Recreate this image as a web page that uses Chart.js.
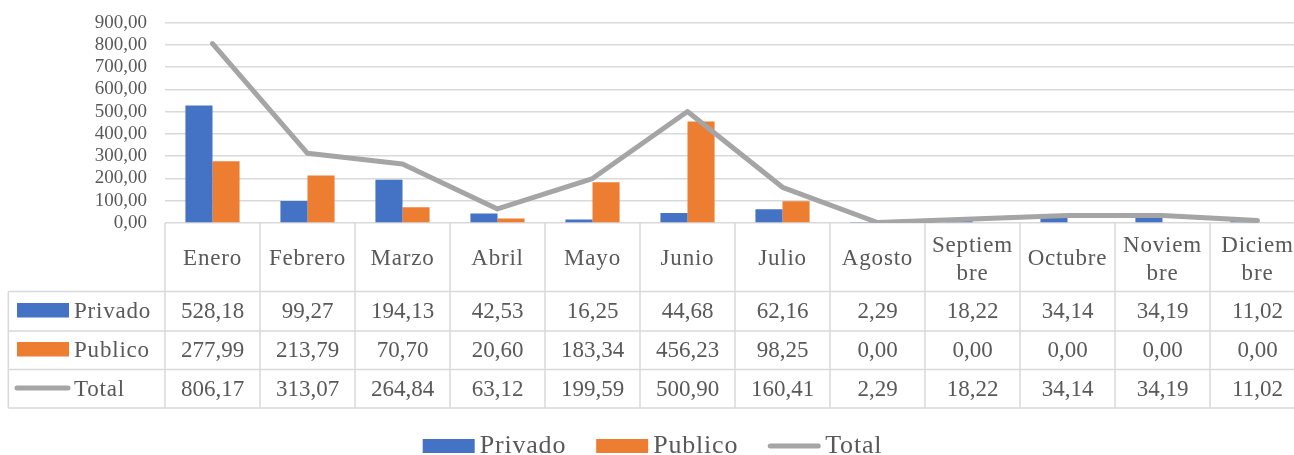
<!DOCTYPE html>
<html><head><meta charset="utf-8">
<script src="https://cdn.jsdelivr.net/npm/chart.js@4"></script>
<style>
html,body{margin:0;padding:0;background:#fff;overflow:hidden;width:1294px;height:455px}
canvas{display:block}
</style>
</head><body>
<canvas id="c" width="1305" height="455"></canvas>
<script>
const categories = ['Enero','Febrero','Marzo','Abril','Mayo','Junio','Julio','Agosto',['Septiem','bre'],'Octubre',['Noviem','bre'],['Diciem','bre']];
const privado = [528.18, 99.27, 194.13, 42.53, 16.25, 44.68, 62.16, 2.29, 18.22, 34.14, 34.19, 11.02];
const publico = [277.99, 213.79, 70.70, 20.60, 183.34, 456.23, 98.25, 0.00, 0.00, 0.00, 0.00, 0.00];
const total   = [806.17, 313.07, 264.84, 63.12, 199.59, 500.90, 160.41, 2.29, 18.22, 34.14, 34.19, 11.02];
const seriesNames = ['Privado','Publico','Total'];
const yMin = 0, yMax = 900, yStep = 100;

const COLORS = {Privado:'#4472c4', Publico:'#ed7d31', Total:'#a5a5a5'};
const TEXT = '#595959';
const GRID = '#d9d9d9';
const FAM = '"Liberation Serif", "DejaVu Serif", serif';
const fmt = v => Number(v).toFixed(2).replace('.', ',');

const tablePlugin = {
  id: 'dataTable',
  afterDraw(chart) {
    const {ctx, chartArea} = chart;
    const xs = chart.scales.x;
    const n = categories.length;
    const colW = xs.getPixelForValue(1) - xs.getPixelForValue(0);
    const x0 = xs.getPixelForValue(0) - colW / 2;
    const top = chartArea.bottom;
    const rowY = [top, top + 68.5, top + 108, top + 146.5, top + 185];
    const tableLeft = 8.3;
    const right = x0 + n * colW;
    ctx.save();
    ctx.strokeStyle = GRID;
    ctx.lineWidth = 1.5;
    ctx.beginPath();
    for (let i = 0; i <= n; i++) {
      const bx = x0 + i * colW;
      ctx.moveTo(bx, rowY[0]); ctx.lineTo(bx, rowY[4]);
    }
    for (let r = 1; r < rowY.length; r++) {
      ctx.moveTo(tableLeft, rowY[r]); ctx.lineTo(right, rowY[r]);
    }
    ctx.moveTo(tableLeft, rowY[1]); ctx.lineTo(tableLeft, rowY[4]);
    ctx.stroke();

    ctx.fillStyle = TEXT;
    ctx.textAlign = 'center';
    ctx.textBaseline = 'alphabetic';
    ctx.font = '23px ' + FAM;
    categories.forEach((c, i) => {
      const cx = x0 + (i + 0.5) * colW;
      ctx.letterSpacing = '0.8px';
      if (Array.isArray(c)) {
        ctx.fillText(c[0], cx, top + 28.5);
        ctx.fillText(c[1], cx, top + 57);
      } else {
        ctx.fillText(c, cx, top + 42);
      }
    });
    ctx.letterSpacing = '0px';
    const rowsData = [privado, publico, total];
    const baselines = [top + 95, top + 134, top + 172.5];
    rowsData.forEach((arr, r) => {
      arr.forEach((v, i) => {
        const cx = x0 + (i + 0.5) * colW;
        ctx.fillText(fmt(v), cx, baselines[r]);
      });
    });
    ctx.textAlign = 'left';
    seriesNames.forEach((name, r) => {
      const b = baselines[r];
      if (name === 'Total') {
        ctx.strokeStyle = COLORS[name];
        ctx.lineWidth = 5;
        ctx.lineCap = 'round';
        ctx.beginPath();
        ctx.moveTo(17, b - 7.5); ctx.lineTo(68, b - 7.5);
        ctx.stroke();
      } else {
        ctx.fillStyle = COLORS[name];
        ctx.fillRect(17, b - 15, 52, 14.5);
      }
      ctx.fillStyle = TEXT;
      ctx.letterSpacing = '0.8px';
      ctx.fillText(name, 74, b);
    });
    ctx.letterSpacing = '0px';

    ctx.font = '26px ' + FAM;
    ctx.letterSpacing = '0.8px';
    const sw = 52, gapT = 5, gapItem = 30;
    const widths = seriesNames.map(nm => ctx.measureText(nm).width);
    let totalW = 0;
    widths.forEach((w, i) => { totalW += sw + gapT + w + (i < widths.length - 1 ? gapItem : 0); });
    let lx = chart.width / 2 - totalW / 2;
    const lb = 453;
    seriesNames.forEach((name, i) => {
      if (name === 'Total') {
        ctx.strokeStyle = COLORS[name];
        ctx.lineWidth = 5;
        ctx.lineCap = 'round';
        ctx.beginPath();
        ctx.moveTo(lx + 2, lb - 7); ctx.lineTo(lx + sw - 2, lb - 7);
        ctx.stroke();
      } else {
        ctx.fillStyle = COLORS[name];
        ctx.fillRect(lx, lb - 14, sw, 14);
      }
      ctx.fillStyle = TEXT;
      ctx.fillText(name, lx + sw + gapT, lb);
      lx += sw + gapT + widths[i] + gapItem;
    });
    ctx.restore();
  }
};

new Chart(document.getElementById('c'), {
  type: 'bar',
  data: {
    labels: categories.map(c => Array.isArray(c) ? c.join('') : c),
    datasets: [
      {label: 'Privado', data: privado, backgroundColor: COLORS.Privado, order: 1,
       barPercentage: 1, categoryPercentage: 0.57},
      {label: 'Publico', data: publico, backgroundColor: COLORS.Publico, order: 1,
       barPercentage: 1, categoryPercentage: 0.57},
      {type: 'line', label: 'Total', data: total, borderColor: COLORS.Total, borderWidth: 5,
       pointRadius: 0, tension: 0, order: 0, borderJoinStyle: 'round', borderCapStyle: 'round', fill: false}
    ]
  },
  options: {
    responsive: false,
    animation: false,
    layout: {padding: {top: 22.7, bottom: 232, left: 0, right: 0}},
    plugins: {legend: {display: false}, tooltip: {enabled: false}},
    scales: {
      x: {display: false},
      y: {
        min: yMin, max: yMax,
        afterFit(s) { s.width = 165; s.paddingTop = 0; s.paddingBottom = 0; },
        ticks: {stepSize: yStep, autoSkip: false, callback: v => fmt(v), color: TEXT, padding: 18,
                font: {family: FAM, size: 19}},
        grid: {color: GRID, lineWidth: 1.5, drawTicks: false},
        border: {display: false}
      }
    }
  },
  plugins: [tablePlugin]
});
</script>
</body></html>
